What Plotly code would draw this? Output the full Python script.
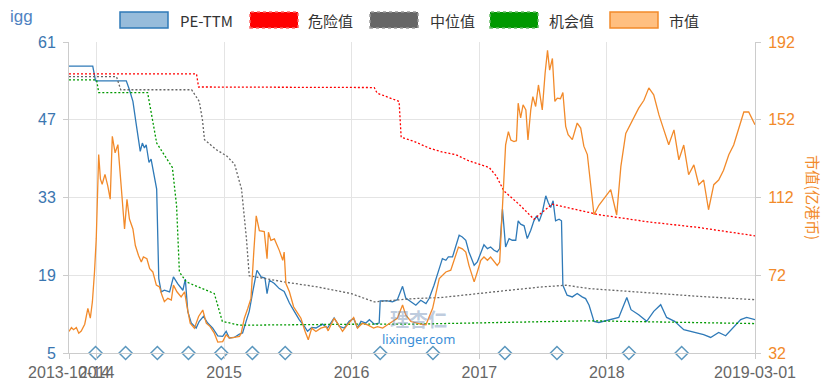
import plotly.graph_objects as go

# ---------------- data ----------------
pe_dates = ["2013-10-14","2013-12-21","2013-12-29","2014-03-27","2014-04-05","2014-04-15","2014-04-24","2014-05-02","2014-05-06","2014-05-12",
"2014-05-18","2014-05-23","2014-05-31","2014-06-06","2014-06-14","2014-06-22","2014-06-28","2014-07-05","2014-07-14","2014-07-29",
"2014-08-09","2014-08-21","2014-09-05","2014-09-12","2014-09-19","2014-09-29","2014-10-13","2014-10-22","2014-11-03","2014-11-15",
"2014-11-29","2014-12-14","2014-12-28","2015-01-07","2015-01-16","2015-01-30","2015-02-14","2015-02-23","2015-03-05","2015-03-14",
"2015-03-24","2015-04-05","2015-04-17","2015-04-28","2015-05-04","2015-05-11","2015-05-25","2015-06-08","2015-06-22","2015-07-07",
"2015-07-21","2015-08-04","2015-08-19","2015-08-28","2015-09-09","2015-09-21","2015-10-10","2015-10-24","2015-11-12","2015-11-27",
"2015-12-11","2015-12-25","2016-01-07","2016-01-18","2016-01-28","2016-02-11","2016-02-21","2016-03-06","2016-03-20","2016-03-23",
"2016-04-13","2016-04-27","2016-05-11","2016-05-26","2016-06-04","2016-06-19","2016-07-03","2016-07-17","2016-08-01","2016-08-10",
"2016-08-24","2016-09-08","2016-09-17","2016-09-27","2016-10-04","2016-10-16","2016-10-25","2016-11-04","2016-11-13","2016-11-23",
"2016-12-02","2016-12-17","2016-12-26","2017-01-05","2017-01-14","2017-01-24","2017-02-02","2017-02-12","2017-02-21","2017-02-28",
"2017-03-08","2017-03-17","2017-03-27","2017-04-05","2017-04-15","2017-04-22","2017-04-29","2017-05-09","2017-05-18","2017-05-28",
"2017-06-06","2017-06-14","2017-06-21","2017-06-30","2017-07-10","2017-07-17","2017-07-24","2017-07-31","2017-08-07","2017-08-17",
"2017-08-24","2017-08-28","2017-09-09","2017-09-24","2017-10-08","2017-10-22","2017-11-01","2017-11-11","2017-11-25","2017-12-09",
"2018-01-07","2018-02-04","2018-02-27","2018-03-11","2018-04-02","2018-04-25","2018-05-15","2018-06-04","2018-06-21","2018-07-14",
"2018-08-09","2018-09-07","2018-10-05","2018-10-25","2018-11-17","2018-12-07","2018-12-30","2019-01-19","2019-02-05","2019-03-01"]
pe_values = [56.65,56.65,54.0,54.0,52.4,50.3,46.4,42.8,41.3,42.8,
41.9,42.5,39.3,39.9,37.5,34.5,18.4,16.0,16.3,16.0,
18.7,17.5,16.3,18.3,12.5,10.4,9.5,10.7,11.6,10.4,
9.5,8.1,8.0,8.9,7.7,7.8,8.4,8.6,10.7,12.5,
16.0,19.9,18.7,18.5,15.7,18.1,17.5,16.6,16.1,14.0,
12.5,11.0,9.8,8.9,9.6,9.5,10.2,9.5,11.3,9.8,
9.5,10.7,11.2,9.5,10.7,10.4,11.0,10.2,10.4,14.4,
14.4,14.2,14.6,17.0,14.9,14.3,13.6,14.5,13.9,14.8,
17.2,20.2,22.0,21.7,22.3,22.3,24.1,26.2,25.9,25.3,
23.2,20.8,21.4,23.2,24.5,23.8,24.1,23.5,23.2,23.8,
30.9,24.1,25.6,25.3,25.3,28.8,28.2,27.9,25.6,27.1,
28.8,29.7,28.7,30.3,33.3,32.1,31.2,32.4,28.8,29.1,
28.8,17.2,15.4,15.1,15.7,15.1,14.8,13.6,10.7,10.5,
11.0,11.4,15.0,12.8,11.9,10.7,12.5,13.7,11.4,10.7,
9.2,8.7,8.3,7.8,8.7,8.1,9.6,11.0,11.4,11.0]

cap_dates = ["2013-10-14","2013-10-21","2013-10-27","2013-11-04","2013-11-11","2013-11-18","2013-11-28","2013-12-07","2013-12-14","2013-12-20",
"2013-12-26","2013-12-31","2014-01-07","2014-01-12","2014-01-17","2014-01-25","2014-02-02","2014-02-09","2014-02-15","2014-02-23",
"2014-03-03","2014-03-10","2014-03-15","2014-03-22","2014-03-29","2014-04-05","2014-04-15","2014-04-22","2014-05-01","2014-05-09",
"2014-05-15","2014-05-25","2014-06-02","2014-06-11","2014-06-21","2014-06-30","2014-07-07","2014-07-14","2014-07-24","2014-08-03",
"2014-08-09","2014-08-19","2014-08-31","2014-09-10","2014-09-16","2014-09-26","2014-10-08","2014-10-20","2014-11-01","2014-11-11",
"2014-11-22","2014-12-04","2014-12-14","2014-12-28","2015-01-07","2015-01-16","2015-01-30","2015-02-14","2015-02-19","2015-02-28",
"2015-03-10","2015-03-19","2015-03-27","2015-04-03","2015-04-12","2015-04-26","2015-05-04","2015-05-08","2015-05-15","2015-05-25",
"2015-06-08","2015-06-18","2015-06-22","2015-06-27","2015-07-07","2015-07-19","2015-07-31","2015-08-09","2015-08-21","2015-08-30",
"2015-09-09","2015-09-21","2015-10-05","2015-10-20","2015-10-26","2015-11-12","2015-11-22","2015-12-06","2015-12-20","2016-01-07",
"2016-01-18","2016-02-01","2016-02-16","2016-03-04","2016-03-15","2016-03-30","2016-04-13","2016-04-27","2016-05-11","2016-05-26",
"2016-06-04","2016-06-19","2016-07-03","2016-07-17","2016-08-01","2016-08-20","2016-09-08","2016-09-17","2016-09-27","2016-10-11",
"2016-10-21","2016-11-02","2016-11-13","2016-11-23","2016-12-02","2016-12-17","2016-12-26","2017-01-05","2017-01-14","2017-01-24",
"2017-02-02","2017-02-12","2017-02-21","2017-02-28","2017-03-08","2017-03-17","2017-03-25","2017-04-01","2017-04-10","2017-04-17",
"2017-04-22","2017-04-29","2017-05-06","2017-05-14","2017-05-20","2017-05-28","2017-06-03","2017-06-11","2017-06-19","2017-06-25",
"2017-06-30","2017-07-08","2017-07-15","2017-07-21","2017-07-29","2017-08-05","2017-08-12","2017-08-21","2017-08-28","2017-09-05",
"2017-09-12","2017-09-24","2017-10-08","2017-10-18","2017-10-27","2017-11-06","2017-11-11","2017-11-25","2017-12-09","2017-12-26",
"2018-01-12","2018-01-29","2018-02-10","2018-02-24","2018-03-11","2018-04-02","2018-04-17","2018-05-01","2018-05-15","2018-05-30",
"2018-06-13","2018-06-27","2018-07-12","2018-07-26","2018-08-09","2018-08-23","2018-09-07","2018-09-21","2018-10-05","2018-10-19",
"2018-11-03","2018-11-17","2018-12-01","2018-12-16","2018-12-30","2019-01-13","2019-01-28","2019-02-11","2019-03-01"]
cap_values = [43.1,45.1,44.0,45.1,42.2,43.3,46.8,55.0,49.9,58.4,
73.7,90.7,134.1,121.4,118.8,123.9,118.0,111.1,143.5,135.0,
139.2,123.9,112.9,95.8,111.1,100.9,95.8,87.3,82.2,78.8,
81.4,80.5,75.4,73.7,66.9,66.0,61.8,58.4,60.1,59.2,
66.9,63.5,60.9,63.5,56.7,47.3,44.8,50.8,54.1,47.3,
45.6,42.2,37.6,37.9,41.4,39.7,40.0,40.5,42.2,49.9,
55.0,60.1,83.9,102.6,94.9,94.5,80.5,94.1,89.9,90.7,
84.8,79.7,83.9,67.7,63.5,55.8,52.4,49.9,43.1,38.8,
44.8,43.1,44.8,45.6,43.4,49.9,47.3,43.1,46.5,50.2,
44.8,47.3,46.5,44.8,45.6,44.8,46.5,48.2,49.9,56.7,
51.6,48.2,47.5,46.8,46.5,55.0,70.3,72.0,73.7,74.6,
80.5,86.5,85.6,83.9,77.1,68.6,73.7,79.7,81.4,79.7,
81.4,78.8,77.1,78.8,108.0,139.1,145.9,141.6,140.8,141.2,
160.5,152.9,159.7,157.1,141.6,157.1,163.9,158.8,169.9,163.1,
157.1,175.8,187.7,177.5,183.5,161.4,163.1,162.8,166.0,148.6,
144.3,141.8,150.3,147.7,138.4,134.1,126.5,103.1,108.0,112.0,
116.0,103.0,128.0,145.0,150.0,158.0,162.0,168.4,164.8,154.5,
146.8,139.1,146.8,131.4,139.0,123.7,128.8,118.6,121.0,105.7,
118.6,121.0,126.0,134.0,139.0,146.8,156.0,156.0,149.4]

danger_dates = ["2013-10-14","2014-10-14","2014-10-20","2016-03-06","2016-03-14","2016-05-16","2016-05-22","2016-06-28","2016-08-10",
"2016-09-16","2016-10-26","2016-12-02","2017-01-29","2017-02-18","2017-03-12","2017-04-24","2017-06-06","2017-07-28","2017-11-11",
"2017-12-09","2018-05-01","2018-09-21","2019-03-01"]
danger_values = [55.25,55.25,52.9,52.8,51.8,50.3,43.85,43.1,41.9,
41.2,40.7,39.6,38.4,36.9,34.2,31.8,29.1,31.8,30.3,
29.9,28.6,27.6,26.1]

median_dates = ["2013-10-14","2014-02-27","2014-03-11","2014-09-30","2014-10-22","2014-10-31","2014-11-06","2014-12-10","2015-01-08",
"2015-01-31","2015-02-20","2015-03-06","2015-03-14","2015-06-22","2015-09-25","2015-12-31","2016-03-06","2016-06-28","2016-09-16",
"2016-12-22","2017-03-27","2017-06-29","2017-09-06","2017-11-11","2018-05-01","2018-09-21","2019-03-01"]
median_values = [54.76,54.76,52.4,52.4,50.3,47.0,43.4,41.6,40.5,
39.0,34.5,25.6,18.9,17.8,16.9,15.7,14.2,14.8,15.0,
15.7,16.3,16.9,17.2,16.6,15.8,15.2,14.6]

opp_dates = ["2013-10-14","2014-01-01","2014-01-07","2014-05-27","2014-06-10","2014-06-22","2014-08-06","2014-08-18","2014-08-26",
"2014-09-15","2014-12-04","2014-12-27","2015-02-14","2015-03-29","2015-08-10","2016-02-15","2016-06-28","2017-11-11","2019-03-01"]
opp_values = [54.17,54.17,51.9,51.9,47.0,42.8,38.4,31.5,19.6,
17.8,15.7,10.7,10.0,10.0,10.1,10.2,10.2,10.8,10.3]

report_dates = ["2013-12-29","2014-03-25","2014-06-24","2014-09-21","2014-12-24","2015-03-23","2015-06-25",
"2016-03-23","2016-08-21","2017-03-15","2017-08-11","2018-03-05","2018-08-03"]

x_start, x_end = "2013-10-14", "2019-03-01"
x_tick_vals = [x_start, "2014-01-01", "2015-01-01", "2016-01-01", "2017-01-01", "2018-01-01", x_end]
x_tick_text = ["2013-10-14", "2014", "2015", "2016", "2017", "2018", "2019-03-01"]
pe_ticks = [5, 19, 33, 47, 61]
cap_ticks = [32, 72, 112, 152, 192]

legend_names = ["PE-TTM", "危险值", "中位值", "机会值", "市值"]

# ---------------- style ----------------
W, H = 831, 389
L, R, T, B = 69, 755, 42, 353
FONT = "Liberation Sans, Arial, Noto Sans CJK SC, sans-serif"
CJK = "Noto Sans CJK SC, sans-serif"
C_PE = "#2f7ab8"
C_CAP = "#f28a2a"
C_RED = "#ff0000"
C_GRAY = "#666666"
C_GREEN = "#009900"
C_AXIS_L = "#3a76b0"
C_GRID = "#e4e4e4"

def px(xp):
    return (xp - L) / (R - L)

def py(yp):
    return (B - yp) / (B - T)

fig = go.Figure()
fig.add_trace(go.Scatter(x=pe_dates, y=pe_values, mode="lines", name="PE-TTM",
                         line=dict(color=C_PE, width=1.3), showlegend=False))
fig.add_trace(go.Scatter(x=danger_dates, y=danger_values, mode="lines", name="危险值",
                         line=dict(color=C_RED, width=1.3, dash="2px,2px"), showlegend=False))
fig.add_trace(go.Scatter(x=median_dates, y=median_values, mode="lines", name="中位值",
                         line=dict(color=C_GRAY, width=1.3, dash="2px,2px"), showlegend=False))
fig.add_trace(go.Scatter(x=opp_dates, y=opp_values, mode="lines", name="机会值",
                         line=dict(color=C_GREEN, width=1.3, dash="2px,2px"), showlegend=False))
fig.add_trace(go.Scatter(x=report_dates, y=[pe_ticks[0]] * len(report_dates), mode="markers",
                         marker=dict(symbol="diamond-open", size=10, color="#5b97be", line=dict(width=1.5)),
                         showlegend=False, cliponaxis=False))
fig.add_trace(go.Scatter(x=cap_dates, y=cap_values, mode="lines", name="市值", yaxis="y2",
                         line=dict(color=C_CAP, width=1.3), showlegend=False))

# legend (manual boxes + text)
legend_items = [
    (120, 168, 178, "rgba(47,122,184,0.5)", C_PE, "solid"),
    (250, 298, 306, C_RED, "#ff6666", "dot"),
    (370, 418, 428, C_GRAY, "#999999", "dot"),
    (490, 538, 547, C_GREEN, "#66bb66", "dot"),
    (610, 658, 667, "#ffbf80", C_CAP, "solid"),
]
shapes = []
annotations = []
for name, (x0, x1, tx, fillc, linec, dash) in zip(legend_names, legend_items):
    shapes.append(dict(type="rect", xref="paper", yref="paper",
                       x0=px(x0), x1=px(x1), y0=py(28), y1=py(12),
                       fillcolor=fillc, line=dict(color=linec, width=1.5, dash=dash)))
    annotations.append(dict(xref="paper", yref="paper", x=px(tx), y=py(20), text=name,
                            showarrow=False, xanchor="left", yanchor="middle",
                            font=dict(family=CJK, size=15, color="#333333")))

annotations.append(dict(xref="paper", yref="paper", x=px(8), y=py(17), text="igg", showarrow=False,
                        xanchor="left", yanchor="middle", font=dict(family=FONT, size=17, color="#4f83c2")))
annotations.append(dict(xref="paper", yref="paper", x=px(814), y=py(197), text="市值(亿港币)", showarrow=False,
                        textangle=90, xanchor="center", yanchor="middle",
                        font=dict(family=CJK, size=15, color=C_CAP)))
annotations.append(dict(xref="paper", yref="paper", x=px(418), y=py(318), text="<b>理杏仁</b>", showarrow=False,
                        xanchor="center", yanchor="middle",
                        font=dict(family=CJK, size=19, color="rgba(110,140,180,0.45)")))
annotations.append(dict(xref="paper", yref="paper", x=px(418), y=py(339), text="lixinger.com", showarrow=False,
                        xanchor="center", yanchor="middle",
                        font=dict(family="Noto Sans, sans-serif", size=13, color="#3c8fd8")))

fig.update_layout(
    width=W, height=H,
    margin=dict(l=L, r=W - R, t=T, b=H - B, pad=0, autoexpand=False),
    paper_bgcolor="white", plot_bgcolor="white",
    showlegend=False,
    font=dict(family=FONT),
    xaxis=dict(type="date", range=[x_start, x_end], tickmode="array", tickvals=x_tick_vals,
               ticktext=x_tick_text, tickangle=0, automargin=False,
               showgrid=True, gridcolor=C_GRID, gridwidth=1,
               showline=True, linecolor="#cccccc", ticks="outside", ticklen=5, tickcolor="#cccccc",
               tickfont=dict(family=FONT, size=16, color="#666666"), zeroline=False),
    yaxis=dict(range=[pe_ticks[0], pe_ticks[-1]], tickmode="array", tickvals=pe_ticks,
               showgrid=True, gridcolor=C_GRID, gridwidth=1, zeroline=False, automargin=False,
               showline=True, linecolor="#cccccc", ticks="outside", ticklen=5, tickcolor="#cccccc",
               ticklabelstandoff=4,
               tickfont=dict(family=FONT, size=16, color=C_AXIS_L)),
    yaxis2=dict(range=[cap_ticks[0], cap_ticks[-1]], tickmode="array", tickvals=cap_ticks,
                overlaying="y", side="right", showgrid=False, zeroline=False, automargin=False,
                showline=True, linecolor="#cccccc", ticks="outside", ticklen=5, tickcolor="#cccccc",
                ticklabelstandoff=4,
                tickfont=dict(family=FONT, size=16, color=C_CAP)),
    shapes=shapes,
    annotations=annotations,
)

fig.write_html("out.html", config={"displayModeBar": False},
               post_script="document.body.style.margin='0';document.body.style.overflow='hidden';")
